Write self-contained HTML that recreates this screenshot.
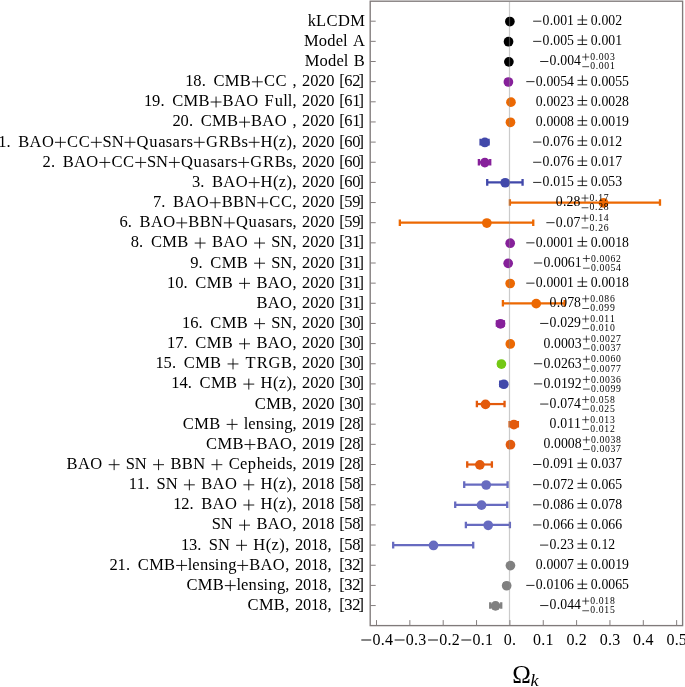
<!DOCTYPE html>
<html><head><meta charset="utf-8"><title>Omega_k constraints</title>
<style>
html,body{margin:0;padding:0;background:#fff;}
body{width:685px;height:687px;overflow:hidden;}
svg{display:block;will-change:transform;}
text{font-family:"Liberation Serif",serif;fill:#000;text-anchor:middle;}
.lb{font-size:16.50px;}
.vl{font-size:13.75px;}
.sc{font-size:9.70px;}
.tk{font-size:16.00px;}
.om{font-size:25px;}
.kk{font-size:15.8px;font-style:italic;text-anchor:start;}
</style></head>
<body><svg width="685" height="687" viewBox="0 0 685 687">
<rect width="685" height="687" fill="#fff"/>
<rect x="370.20" y="1.20" width="312.40" height="624.40" fill="none" stroke="#807a7a" stroke-width="1.35"/>
<path d="M370.20 21.20H375.70M370.20 41.35H375.70M370.20 61.50H375.70M370.20 81.65H375.70M370.20 101.80H375.70M370.20 121.95H375.70M370.20 142.10H375.70M370.20 162.25H375.70M370.20 182.40H375.70M370.20 202.55H375.70M370.20 222.70H375.70M370.20 242.85H375.70M370.20 263.00H375.70M370.20 283.15H375.70M370.20 303.30H375.70M370.20 323.45H375.70M370.20 343.60H375.70M370.20 363.75H375.70M370.20 383.90H375.70M370.20 404.05H375.70M370.20 424.20H375.70M370.20 444.35H375.70M370.20 464.50H375.70M370.20 484.65H375.70M370.20 504.80H375.70M370.20 524.95H375.70M370.20 545.10H375.70M370.20 565.25H375.70M370.20 585.40H375.70M370.20 605.55H375.70" stroke="#847e7e" stroke-width="1" fill="none"/>
<path d="M376.50 625.60V620.10M409.85 625.60V620.10M443.20 625.60V620.10M476.55 625.60V620.10M509.90 625.60V620.10M543.25 625.60V620.10M576.60 625.60V620.10M609.95 625.60V620.10M643.30 625.60V620.10M676.65 625.60V620.10" stroke="#847e7e" stroke-width="1" fill="none"/>
<g><path d="M508.90 21.20H510.23" stroke="#000000" stroke-width="2.2"/><path d="M508.90 17.90v6.6M510.23 17.90v6.6" stroke="#000000" stroke-width="2.3"/><circle cx="509.87" cy="21.55" r="4.85" fill="#000000"/><path d="M507.90 41.35H508.57" stroke="#000000" stroke-width="2.2"/><path d="M507.90 38.05v6.6M508.57 38.05v6.6" stroke="#000000" stroke-width="2.3"/><circle cx="508.53" cy="41.70" r="4.85" fill="#000000"/><path d="M508.23 61.50H509.57" stroke="#000000" stroke-width="2.2"/><path d="M508.23 58.20v6.6M509.57 58.20v6.6" stroke="#000000" stroke-width="2.3"/><circle cx="508.87" cy="61.85" r="4.85" fill="#000000"/><path d="M506.26 81.65H509.93" stroke="#86209a" stroke-width="2.2"/><path d="M506.26 78.35v6.6M509.93 78.35v6.6" stroke="#86209a" stroke-width="2.3"/><circle cx="508.40" cy="82.00" r="4.85" fill="#86209a"/><path d="M509.73 101.80H511.60" stroke="#ec6802" stroke-width="2.2"/><path d="M509.73 98.50v6.6M511.60 98.50v6.6" stroke="#ec6802" stroke-width="2.3"/><circle cx="510.97" cy="102.15" r="4.85" fill="#ec6802"/><path d="M509.53 121.95H510.80" stroke="#ec6802" stroke-width="2.2"/><path d="M509.53 118.65v6.6M510.80 118.65v6.6" stroke="#ec6802" stroke-width="2.3"/><circle cx="510.47" cy="122.30" r="4.85" fill="#ec6802"/><path d="M480.55 142.10H488.56" stroke="#4148aa" stroke-width="2.2"/><path d="M480.55 138.80v6.6M488.56 138.80v6.6" stroke="#4148aa" stroke-width="2.3"/><circle cx="484.85" cy="142.45" r="4.85" fill="#4148aa"/><path d="M478.88 162.25H490.22" stroke="#86209a" stroke-width="2.2"/><path d="M478.88 158.95v6.6M490.22 158.95v6.6" stroke="#86209a" stroke-width="2.3"/><circle cx="484.85" cy="162.60" r="4.85" fill="#86209a"/><path d="M487.22 182.40H522.57" stroke="#4148aa" stroke-width="2.2"/><path d="M487.22 179.10v6.6M522.57 179.10v6.6" stroke="#4148aa" stroke-width="2.3"/><circle cx="505.20" cy="182.75" r="4.85" fill="#4148aa"/><path d="M509.90 202.55H659.98" stroke="#ec6802" stroke-width="2.2"/><path d="M509.90 199.25v6.6M659.98 199.25v6.6" stroke="#ec6802" stroke-width="2.3"/><circle cx="603.58" cy="202.90" r="4.85" fill="#ec6802"/><path d="M399.84 222.70H533.25" stroke="#ec6802" stroke-width="2.2"/><path d="M399.84 219.40v6.6M533.25 219.40v6.6" stroke="#ec6802" stroke-width="2.3"/><circle cx="486.85" cy="223.05" r="4.85" fill="#ec6802"/><path d="M509.27 242.85H510.47" stroke="#86209a" stroke-width="2.2"/><path d="M509.27 239.55v6.6M510.47 239.55v6.6" stroke="#86209a" stroke-width="2.3"/><circle cx="510.17" cy="243.20" r="4.85" fill="#86209a"/><path d="M506.06 263.00H509.93" stroke="#86209a" stroke-width="2.2"/><path d="M506.06 259.70v6.6M509.93 259.70v6.6" stroke="#86209a" stroke-width="2.3"/><circle cx="508.17" cy="263.35" r="4.85" fill="#86209a"/><path d="M509.27 283.15H510.47" stroke="#ec6802" stroke-width="2.2"/><path d="M509.27 279.85v6.6M510.47 279.85v6.6" stroke="#ec6802" stroke-width="2.3"/><circle cx="510.17" cy="283.50" r="4.85" fill="#ec6802"/><path d="M502.90 303.30H564.59" stroke="#ec6802" stroke-width="2.2"/><path d="M502.90 300.00v6.6M564.59 300.00v6.6" stroke="#ec6802" stroke-width="2.3"/><circle cx="536.21" cy="303.65" r="4.85" fill="#ec6802"/><path d="M496.89 323.45H503.90" stroke="#86209a" stroke-width="2.2"/><path d="M496.89 320.15v6.6M503.90 320.15v6.6" stroke="#86209a" stroke-width="2.3"/><circle cx="500.53" cy="323.80" r="4.85" fill="#86209a"/><path d="M508.77 343.60H510.90" stroke="#ec6802" stroke-width="2.2"/><path d="M508.77 340.30v6.6M510.90 340.30v6.6" stroke="#ec6802" stroke-width="2.3"/><circle cx="510.30" cy="343.95" r="4.85" fill="#ec6802"/><path d="M498.56 363.75H503.13" stroke="#73c814" stroke-width="2.2"/><path d="M498.56 360.45v6.6M503.13 360.45v6.6" stroke="#73c814" stroke-width="2.3"/><circle cx="501.43" cy="364.10" r="4.85" fill="#73c814"/><path d="M500.20 383.90H504.70" stroke="#4148aa" stroke-width="2.2"/><path d="M500.20 380.60v6.6M504.70 380.60v6.6" stroke="#4148aa" stroke-width="2.3"/><circle cx="503.80" cy="384.25" r="4.85" fill="#4148aa"/><path d="M476.88 404.05H504.56" stroke="#e35a0c" stroke-width="2.2"/><path d="M476.88 400.75v6.6M504.56 400.75v6.6" stroke="#e35a0c" stroke-width="2.3"/><circle cx="485.52" cy="404.40" r="4.85" fill="#e35a0c"/><path d="M509.57 424.20H517.90" stroke="#e35a0c" stroke-width="2.2"/><path d="M509.57 420.90v6.6M517.90 420.90v6.6" stroke="#e35a0c" stroke-width="2.3"/><circle cx="513.87" cy="424.55" r="4.85" fill="#e35a0c"/><path d="M508.93 444.35H511.43" stroke="#e35a0c" stroke-width="2.2"/><path d="M508.93 441.05v6.6M511.43 441.05v6.6" stroke="#e35a0c" stroke-width="2.3"/><circle cx="510.47" cy="444.70" r="4.85" fill="#e35a0c"/><path d="M467.21 464.50H491.89" stroke="#e35a0c" stroke-width="2.2"/><path d="M467.21 461.20v6.6M491.89 461.20v6.6" stroke="#e35a0c" stroke-width="2.3"/><circle cx="479.85" cy="464.85" r="4.85" fill="#e35a0c"/><path d="M464.21 484.65H507.57" stroke="#676bc0" stroke-width="2.2"/><path d="M464.21 481.35v6.6M507.57 481.35v6.6" stroke="#676bc0" stroke-width="2.3"/><circle cx="486.19" cy="485.00" r="4.85" fill="#676bc0"/><path d="M455.21 504.80H507.23" stroke="#676bc0" stroke-width="2.2"/><path d="M455.21 501.50v6.6M507.23 501.50v6.6" stroke="#676bc0" stroke-width="2.3"/><circle cx="481.52" cy="505.15" r="4.85" fill="#676bc0"/><path d="M465.88 524.95H509.90" stroke="#676bc0" stroke-width="2.2"/><path d="M465.88 521.65v6.6M509.90 521.65v6.6" stroke="#676bc0" stroke-width="2.3"/><circle cx="488.19" cy="525.30" r="4.85" fill="#676bc0"/><path d="M393.17 545.10H473.21" stroke="#676bc0" stroke-width="2.2"/><path d="M393.17 541.80v6.6M473.21 541.80v6.6" stroke="#676bc0" stroke-width="2.3"/><circle cx="433.50" cy="545.45" r="4.85" fill="#676bc0"/><path d="M509.50 565.25H510.77" stroke="#808080" stroke-width="2.2"/><path d="M509.50 561.95v6.6M510.77 561.95v6.6" stroke="#808080" stroke-width="2.3"/><circle cx="510.43" cy="565.60" r="4.85" fill="#808080"/><path d="M504.20 585.40H508.53" stroke="#808080" stroke-width="2.2"/><path d="M504.20 582.10v6.6M508.53 582.10v6.6" stroke="#808080" stroke-width="2.3"/><circle cx="506.66" cy="585.75" r="4.85" fill="#808080"/><path d="M490.22 605.55H501.23" stroke="#808080" stroke-width="2.2"/><path d="M490.22 602.25v6.6M501.23 602.25v6.6" stroke="#808080" stroke-width="2.3"/><circle cx="495.53" cy="605.90" r="4.85" fill="#808080"/></g>
<path d="M509.50 1.80V625.00" stroke="#8c8c8c" stroke-opacity="0.45" stroke-width="1.2"/>
<g class="tx">
<text class="lb" x="311.84 321.15 332.03 344.03 357.60" y="25.70">kLCDM</text>
<text class="lb" x="311.39 322.83 331.35 339.43 345.26 358.94" y="45.85">ModelA</text>
<text class="lb" x="312.06 323.50 332.03 340.10 345.93 359.28" y="66.00">ModelB</text>
<text class="lb" x="189.37 197.45 203.73 218.98 232.21 245.33 269.45 281.11 294.57 306.23 314.31 322.38 330.46 342.12 348.40 356.48 361.14" y="86.15">18.CMBCC,2020[62]</text><path d="M251.88 81.85h10.90M257.33 76.40v10.90" stroke="#000" stroke-width="0.90" fill="none"/>
<text class="lb" x="148.10 156.17 162.45 177.70 190.94 204.06 228.06 239.84 252.17 269.11 278.87 285.60 290.08 294.57 306.23 314.31 322.38 330.46 342.12 348.40 356.48 361.14" y="106.30">19.CMBBAOFull,2020[61]</text><path d="M210.61 102.00h10.90M216.06 96.55v10.90" stroke="#000" stroke-width="0.90" fill="none"/>
<text class="lb" x="176.59 184.66 190.94 206.19 219.43 232.55 256.55 268.32 280.66 294.57 306.23 314.31 322.38 330.46 342.12 348.40 356.48 361.14" y="126.45">20.CMBBAO,2020[61]</text><path d="M239.10 122.15h10.90M244.55 116.70v10.90" stroke="#000" stroke-width="0.90" fill="none"/>
<text class="lb" x="2.32 8.60 23.74 35.52 47.85 72.53 84.19 107.07 117.61 142.51 153.28 161.80 169.03 176.25 183.45 189.80 211.88 224.16 235.82 244.73 266.53 275.73 282.46 289.18 294.57 306.23 314.31 322.38 330.46 342.12 348.40 356.48 361.14" y="146.60">1.BAOCCSNQuasarsGRBsH(z),2020[60]</text><path d="M54.97 142.30h10.90M60.42 136.85v10.90M90.85 142.30h10.90M96.30 136.85v10.90M124.50 142.30h10.90M129.95 136.85v10.90M193.81 142.30h10.90M199.26 136.85v10.90M248.74 142.30h10.90M254.19 136.85v10.90" stroke="#000" stroke-width="0.90" fill="none"/>
<text class="lb" x="46.74 53.02 68.15 79.93 92.27 116.94 128.60 151.48 162.03 186.93 197.69 206.22 213.44 220.66 227.86 234.21 256.29 268.57 280.24 289.14 294.57 306.23 314.31 322.38 330.46 342.12 348.40 356.48 361.14" y="166.75">2.BAOCCSNQuasarsGRBs,2020[60]</text><path d="M99.38 162.45h10.90M104.83 157.00v10.90M135.27 162.45h10.90M140.72 157.00v10.90M168.91 162.45h10.90M174.36 157.00v10.90M238.22 162.45h10.90M243.67 157.00v10.90" stroke="#000" stroke-width="0.90" fill="none"/>
<text class="lb" x="196.10 202.38 217.52 229.29 241.63 266.53 275.73 282.46 289.18 294.57 306.23 314.31 322.38 330.46 342.12 348.40 356.48 361.14" y="186.90">3.BAOH(z),2020[60]</text><path d="M248.74 182.60h10.90M254.19 177.15v10.90" stroke="#000" stroke-width="0.90" fill="none"/>
<text class="lb" x="157.07 163.35 178.49 190.27 202.60 227.17 238.60 250.38 274.83 286.49 294.57 306.23 314.31 322.38 330.46 342.12 348.40 356.48 361.14" y="207.05">7.BAOBBNCC,2020[59]</text><path d="M209.71 202.75h10.90M215.17 197.30v10.90M257.27 202.75h10.90M262.72 197.30v10.90" stroke="#000" stroke-width="0.90" fill="none"/>
<text class="lb" x="123.65 129.93 145.07 156.84 169.18 193.74 205.18 216.96 241.86 252.62 261.15 268.37 275.59 282.79 289.14 294.57 306.23 314.31 322.38 330.46 342.12 348.40 356.48 361.14" y="227.20">6.BAOBBNQuasars,2020[59]</text><path d="M176.29 222.90h10.90M181.74 217.45v10.90M223.84 222.90h10.90M229.29 217.45v10.90" stroke="#000" stroke-width="0.90" fill="none"/>
<text class="lb" x="134.87 141.15 156.40 169.63 182.75 217.52 229.29 241.63 275.73 286.27 294.57 306.23 314.31 322.38 330.46 342.12 348.40 356.48 361.14" y="247.35">8.CMBBAOSN,2020[31]</text><path d="M194.69 243.05h10.90M200.14 237.60v10.90M254.13 243.05h10.90M259.58 237.60v10.90" stroke="#000" stroke-width="0.90" fill="none"/>
<text class="lb" x="194.31 200.59 215.84 229.07 242.19 275.73 286.27 294.57 306.23 314.31 322.38 330.46 342.12 348.40 356.48 361.14" y="267.50">9.CMBSN,2020[31]</text><path d="M254.13 263.20h10.90M259.58 257.75v10.90" stroke="#000" stroke-width="0.90" fill="none"/>
<text class="lb" x="171.20 179.28 185.56 200.81 214.04 227.17 261.93 273.71 286.04 294.57 306.23 314.31 322.38 330.46 342.12 348.40 356.48 361.14" y="287.65">10.CMBBAO,2020[31]</text><path d="M239.10 283.35h10.90M244.55 277.90v10.90" stroke="#000" stroke-width="0.90" fill="none"/>
<text class="lb" x="261.93 273.71 286.04 294.57 306.23 314.31 322.38 330.46 342.12 348.40 356.48 361.14" y="307.80">BAO,2020[31]</text>
<text class="lb" x="186.23 194.31 200.59 215.84 229.07 242.19 275.73 286.27 294.57 306.23 314.31 322.38 330.46 342.12 348.40 356.48 361.14" y="327.95">16.CMBSN,2020[30]</text><path d="M254.13 323.65h10.90M259.58 318.20v10.90" stroke="#000" stroke-width="0.90" fill="none"/>
<text class="lb" x="171.20 179.28 185.56 200.81 214.04 227.17 261.93 273.71 286.04 294.57 306.23 314.31 322.38 330.46 342.12 348.40 356.48 361.14" y="348.10">17.CMBBAO,2020[30]</text><path d="M239.10 343.80h10.90M244.55 338.35v10.90" stroke="#000" stroke-width="0.90" fill="none"/>
<text class="lb" x="159.65 167.73 174.01 189.26 202.49 215.61 250.49 262.27 274.55 286.61 294.57 306.23 314.31 322.38 330.46 342.12 348.40 356.48 361.14" y="368.25">15.CMBTRGB,2020[30]</text><path d="M227.55 363.95h10.90M233.00 358.50v10.90" stroke="#000" stroke-width="0.90" fill="none"/>
<text class="lb" x="175.47 183.54 189.82 205.07 218.31 231.43 266.53 275.73 282.46 289.18 294.57 306.23 314.31 322.38 330.46 342.12 348.40 356.48 361.14" y="388.40">14.CMBH(z),2020[30]</text><path d="M243.36 384.10h10.90M248.81 378.65v10.90" stroke="#000" stroke-width="0.90" fill="none"/>
<text class="lb" x="260.25 273.48 286.61 294.57 306.23 314.31 322.38 330.46 342.12 348.40 356.48 361.14" y="408.55">CMB,2020[30]</text>
<text class="lb" x="188.38 201.62 214.74 246.03 251.86 259.93 267.61 273.03 279.76 288.29 294.57 306.23 314.31 322.38 330.46 342.12 348.40 356.48 361.14" y="428.70">CMBlensing,2019[28]</text><path d="M226.67 424.40h10.90M232.12 418.95v10.90" stroke="#000" stroke-width="0.90" fill="none"/>
<text class="lb" x="211.58 224.81 237.93 261.93 273.71 286.04 294.57 306.23 314.31 322.38 330.46 342.12 348.40 356.48 361.14" y="448.85">CMBBAO,2019[28]</text><path d="M244.48 444.55h10.90M249.93 439.10v10.90" stroke="#000" stroke-width="0.90" fill="none"/>
<text class="lb" x="72.08 83.86 96.19 130.29 140.83 175.93 187.37 199.15 234.36 243.78 251.86 260.83 268.91 274.74 281.47 289.14 294.57 306.23 314.31 322.38 330.46 342.12 348.40 356.48 361.14" y="469.00">BAOSNBBNCepheids,2019[28]</text><path d="M108.69 464.70h10.90M114.14 459.25v10.90M153.10 464.70h10.90M158.55 459.25v10.90M211.42 464.70h10.90M216.87 459.25v10.90" stroke="#000" stroke-width="0.90" fill="none"/>
<text class="lb" x="132.85 140.92 147.20 161.11 171.65 206.75 218.53 230.87 266.53 275.73 282.46 289.18 294.57 306.23 314.31 322.38 330.46 342.12 348.40 356.48 361.14" y="489.15">11.SNBAOH(z),2018[58]</text><path d="M183.92 484.85h10.90M189.37 479.40v10.90M243.36 484.85h10.90M248.81 479.40v10.90" stroke="#000" stroke-width="0.90" fill="none"/>
<text class="lb" x="177.26 185.33 191.62 206.75 218.53 230.87 266.53 275.73 282.46 289.18 294.57 306.23 314.31 322.38 330.46 342.12 348.40 356.48 361.14" y="509.30">12.BAOH(z),2018[58]</text><path d="M243.36 505.00h10.90M248.81 499.55v10.90" stroke="#000" stroke-width="0.90" fill="none"/>
<text class="lb" x="216.29 226.83 261.93 273.71 286.04 294.57 306.23 314.31 322.38 330.46 342.12 348.40 356.48 361.14" y="529.45">SNBAO,2018[58]</text><path d="M239.10 525.15h10.90M244.55 519.70v10.90" stroke="#000" stroke-width="0.90" fill="none"/>
<text class="lb" x="185.06 193.13 199.41 213.32 223.86 259.30 268.49 275.22 281.95 287.34 299.00 307.07 315.15 323.22 329.51 342.12 348.40 356.48 361.14" y="549.60">13.SNH(z),2018,[58]</text><path d="M236.13 545.30h10.90M241.58 539.85v10.90" stroke="#000" stroke-width="0.90" fill="none"/>
<text class="lb" x="113.63 121.71 127.99 143.24 156.48 169.60 190.12 195.95 204.03 211.70 217.13 223.86 232.38 254.70 266.48 278.81 287.34 299.00 307.07 315.15 323.22 329.51 342.12 348.40 356.48 361.14" y="569.75">21.CMBlensingBAO,2018,[32]</text><path d="M176.15 565.45h10.90M181.60 560.00v10.90M237.25 565.45h10.90M242.70 560.00v10.90" stroke="#000" stroke-width="0.90" fill="none"/>
<text class="lb" x="191.92 205.15 218.27 238.80 244.63 252.70 260.37 265.80 272.53 281.06 287.34 299.00 307.07 315.15 323.22 329.51 342.12 348.40 356.48 361.14" y="589.90">CMBlensing,2018,[32]</text><path d="M224.82 585.60h10.90M230.27 580.15v10.90" stroke="#000" stroke-width="0.90" fill="none"/>
<text class="lb" x="253.02 266.25 279.37 287.34 299.00 307.07 315.15 323.22 329.51 342.12 348.40 356.48 361.14" y="610.05">CMB,2018,[32]</text>
<text class="vl" x="546.06 551.41 556.76 563.63 570.51 594.19 599.53 604.88 611.76 618.63" y="25.10">0.0010.002</text><path d="M533.15 21.20h8.25M577.49 19.94h9.71M582.35 14.99V24.41M577.49 24.41h9.71" stroke="#000" stroke-width="0.85" fill="none"/>
<text class="vl" x="546.06 551.41 556.76 563.63 570.51 594.19 599.53 604.88 611.76 618.63" y="45.25">0.0050.001</text><path d="M533.15 41.35h8.25M577.49 40.09h9.71M582.35 35.14V44.56M577.49 44.56h9.71" stroke="#000" stroke-width="0.85" fill="none"/>
<text class="vl" x="553.06 558.41 563.76 570.63 577.51" y="65.40">0.004</text><path d="M540.15 61.50h8.25" stroke="#000" stroke-width="0.85" fill="none"/>
<text class="sc" x="592.71 596.99 601.26 606.79 612.31" y="60.10">0.003</text><path d="M582.20 57.00h6.98M585.70 53.51v6.98" stroke="#000" stroke-width="0.70" fill="none"/>
<text class="sc" x="592.71 596.99 601.26 606.79 612.31" y="69.30">0.001</text><path d="M582.30 66.70h6.79" stroke="#000" stroke-width="0.70" fill="none"/>
<text class="vl" x="539.19 544.53 549.88 556.76 563.63 570.51 594.19 599.53 604.88 611.76 618.63 625.51" y="85.55">0.00540.0055</text><path d="M526.28 81.65h8.25M577.49 80.39h9.71M582.35 75.44V84.86M577.49 84.86h9.71" stroke="#000" stroke-width="0.85" fill="none"/>
<text class="vl" x="539.19 544.53 549.88 556.76 563.63 570.51 594.19 599.53 604.88 611.76 618.63 625.51" y="105.70">0.00230.0028</text><path d="M577.49 100.54h9.71M582.35 95.59V105.01M577.49 105.01h9.71" stroke="#000" stroke-width="0.85" fill="none"/>
<text class="vl" x="539.19 544.53 549.88 556.76 563.63 570.51 594.19 599.53 604.88 611.76 618.63 625.51" y="125.85">0.00080.0019</text><path d="M577.49 120.69h9.71M582.35 115.74V125.16M577.49 125.16h9.71" stroke="#000" stroke-width="0.85" fill="none"/>
<text class="vl" x="546.06 551.41 556.76 563.63 570.51 594.19 599.53 604.88 611.76 618.63" y="146.00">0.0760.012</text><path d="M533.15 142.10h8.25M577.49 140.84h9.71M582.35 135.89V145.31M577.49 145.31h9.71" stroke="#000" stroke-width="0.85" fill="none"/>
<text class="vl" x="546.06 551.41 556.76 563.63 570.51 594.19 599.53 604.88 611.76 618.63" y="166.15">0.0760.017</text><path d="M533.15 162.25h8.25M577.49 160.99h9.71M582.35 156.04V165.46M577.49 165.46h9.71" stroke="#000" stroke-width="0.85" fill="none"/>
<text class="vl" x="546.06 551.41 556.76 563.63 570.51 594.19 599.53 604.88 611.76 618.63" y="186.30">0.0150.053</text><path d="M533.15 182.40h8.25M577.49 181.14h9.71M582.35 176.19V185.61M577.49 185.61h9.71" stroke="#000" stroke-width="0.85" fill="none"/>
<text class="vl" x="559.26 564.61 569.96 576.83" y="206.45">0.28</text>
<text class="sc" x="592.03 596.31 600.59 606.11" y="201.15">0.17</text><path d="M581.53 198.05h6.98M585.02 194.56v6.98" stroke="#000" stroke-width="0.70" fill="none"/>
<text class="sc" x="592.03 596.31 600.59 606.11" y="210.35">0.28</text><path d="M581.62 207.75h6.79" stroke="#000" stroke-width="0.70" fill="none"/>
<text class="vl" x="559.26 564.61 569.96 576.83" y="226.60">0.07</text><path d="M546.35 222.70h8.25" stroke="#000" stroke-width="0.85" fill="none"/>
<text class="sc" x="592.03 596.31 600.59 606.11" y="221.30">0.14</text><path d="M581.53 218.20h6.98M585.02 214.71v6.98" stroke="#000" stroke-width="0.70" fill="none"/>
<text class="sc" x="592.03 596.31 600.59 606.11" y="230.50">0.26</text><path d="M581.62 227.90h6.79" stroke="#000" stroke-width="0.70" fill="none"/>
<text class="vl" x="539.19 544.53 549.88 556.76 563.63 570.51 594.19 599.53 604.88 611.76 618.63 625.51" y="246.75">0.00010.0018</text><path d="M526.28 242.85h8.25M577.49 241.59h9.71M582.35 236.64V246.06M577.49 246.06h9.71" stroke="#000" stroke-width="0.85" fill="none"/>
<text class="vl" x="546.86 552.21 557.56 564.43 571.31 578.18" y="266.90">0.0061</text><path d="M533.95 263.00h8.25" stroke="#000" stroke-width="0.85" fill="none"/>
<text class="sc" x="593.39 597.66 601.94 607.46 612.99 618.51" y="261.60">0.0062</text><path d="M582.88 258.50h6.98M586.37 255.01v6.98" stroke="#000" stroke-width="0.70" fill="none"/>
<text class="sc" x="593.39 597.66 601.94 607.46 612.99 618.51" y="270.80">0.0054</text><path d="M582.98 268.20h6.79" stroke="#000" stroke-width="0.70" fill="none"/>
<text class="vl" x="539.19 544.53 549.88 556.76 563.63 570.51 594.19 599.53 604.88 611.76 618.63 625.51" y="287.05">0.00010.0018</text><path d="M526.28 283.15h8.25M577.49 281.89h9.71M582.35 276.94V286.36M577.49 286.36h9.71" stroke="#000" stroke-width="0.85" fill="none"/>
<text class="vl" x="553.06 558.41 563.76 570.63 577.51" y="307.20">0.078</text>
<text class="sc" x="592.71 596.99 601.26 606.79 612.31" y="301.90">0.086</text><path d="M582.20 298.80h6.98M585.70 295.31v6.98" stroke="#000" stroke-width="0.70" fill="none"/>
<text class="sc" x="592.71 596.99 601.26 606.79 612.31" y="311.10">0.099</text><path d="M582.30 308.50h6.79" stroke="#000" stroke-width="0.70" fill="none"/>
<text class="vl" x="553.06 558.41 563.76 570.63 577.51" y="327.35">0.029</text><path d="M540.15 323.45h8.25" stroke="#000" stroke-width="0.85" fill="none"/>
<text class="sc" x="592.71 596.99 601.26 606.79 612.31" y="322.05">0.011</text><path d="M582.20 318.95h6.98M585.70 315.46v6.98" stroke="#000" stroke-width="0.70" fill="none"/>
<text class="sc" x="592.71 596.99 601.26 606.79 612.31" y="331.25">0.010</text><path d="M582.30 328.65h6.79" stroke="#000" stroke-width="0.70" fill="none"/>
<text class="vl" x="546.86 552.21 557.56 564.43 571.31 578.18" y="347.50">0.0003</text>
<text class="sc" x="593.39 597.66 601.94 607.46 612.99 618.51" y="342.20">0.0027</text><path d="M582.88 339.10h6.98M586.37 335.61v6.98" stroke="#000" stroke-width="0.70" fill="none"/>
<text class="sc" x="593.39 597.66 601.94 607.46 612.99 618.51" y="351.40">0.0037</text><path d="M582.98 348.80h6.79" stroke="#000" stroke-width="0.70" fill="none"/>
<text class="vl" x="546.86 552.21 557.56 564.43 571.31 578.18" y="367.65">0.0263</text><path d="M533.95 363.75h8.25" stroke="#000" stroke-width="0.85" fill="none"/>
<text class="sc" x="593.39 597.66 601.94 607.46 612.99 618.51" y="362.35">0.0060</text><path d="M582.88 359.25h6.98M586.37 355.76v6.98" stroke="#000" stroke-width="0.70" fill="none"/>
<text class="sc" x="593.39 597.66 601.94 607.46 612.99 618.51" y="371.55">0.0077</text><path d="M582.98 368.95h6.79" stroke="#000" stroke-width="0.70" fill="none"/>
<text class="vl" x="546.86 552.21 557.56 564.43 571.31 578.18" y="387.80">0.0192</text><path d="M533.95 383.90h8.25" stroke="#000" stroke-width="0.85" fill="none"/>
<text class="sc" x="593.39 597.66 601.94 607.46 612.99 618.51" y="382.50">0.0036</text><path d="M582.88 379.40h6.98M586.37 375.91v6.98" stroke="#000" stroke-width="0.70" fill="none"/>
<text class="sc" x="593.39 597.66 601.94 607.46 612.99 618.51" y="391.70">0.0099</text><path d="M582.98 389.10h6.79" stroke="#000" stroke-width="0.70" fill="none"/>
<text class="vl" x="553.06 558.41 563.76 570.63 577.51" y="407.95">0.074</text><path d="M540.15 404.05h8.25" stroke="#000" stroke-width="0.85" fill="none"/>
<text class="sc" x="592.71 596.99 601.26 606.79 612.31" y="402.65">0.058</text><path d="M582.20 399.55h6.98M585.70 396.06v6.98" stroke="#000" stroke-width="0.70" fill="none"/>
<text class="sc" x="592.71 596.99 601.26 606.79 612.31" y="411.85">0.025</text><path d="M582.30 409.25h6.79" stroke="#000" stroke-width="0.70" fill="none"/>
<text class="vl" x="553.06 558.41 563.76 570.63 577.51" y="428.10">0.011</text>
<text class="sc" x="592.71 596.99 601.26 606.79 612.31" y="422.80">0.013</text><path d="M582.20 419.70h6.98M585.70 416.21v6.98" stroke="#000" stroke-width="0.70" fill="none"/>
<text class="sc" x="592.71 596.99 601.26 606.79 612.31" y="432.00">0.012</text><path d="M582.30 429.40h6.79" stroke="#000" stroke-width="0.70" fill="none"/>
<text class="vl" x="546.86 552.21 557.56 564.43 571.31 578.18" y="448.25">0.0008</text>
<text class="sc" x="593.39 597.66 601.94 607.46 612.99 618.51" y="442.95">0.0038</text><path d="M582.88 439.85h6.98M586.37 436.36v6.98" stroke="#000" stroke-width="0.70" fill="none"/>
<text class="sc" x="593.39 597.66 601.94 607.46 612.99 618.51" y="452.15">0.0037</text><path d="M582.98 449.55h6.79" stroke="#000" stroke-width="0.70" fill="none"/>
<text class="vl" x="546.06 551.41 556.76 563.63 570.51 594.19 599.53 604.88 611.76 618.63" y="468.40">0.0910.037</text><path d="M533.15 464.50h8.25M577.49 463.24h9.71M582.35 458.29V467.71M577.49 467.71h9.71" stroke="#000" stroke-width="0.85" fill="none"/>
<text class="vl" x="546.06 551.41 556.76 563.63 570.51 594.19 599.53 604.88 611.76 618.63" y="488.55">0.0720.065</text><path d="M533.15 484.65h8.25M577.49 483.39h9.71M582.35 478.44V487.86M577.49 487.86h9.71" stroke="#000" stroke-width="0.85" fill="none"/>
<text class="vl" x="546.06 551.41 556.76 563.63 570.51 594.19 599.53 604.88 611.76 618.63" y="508.70">0.0860.078</text><path d="M533.15 504.80h8.25M577.49 503.54h9.71M582.35 498.59V508.01M577.49 508.01h9.71" stroke="#000" stroke-width="0.85" fill="none"/>
<text class="vl" x="546.06 551.41 556.76 563.63 570.51 594.19 599.53 604.88 611.76 618.63" y="528.85">0.0660.066</text><path d="M533.15 524.95h8.25M577.49 523.69h9.71M582.35 518.74V528.16M577.49 528.16h9.71" stroke="#000" stroke-width="0.85" fill="none"/>
<text class="vl" x="552.94 558.28 563.63 570.51 594.19 599.53 604.88 611.76" y="549.00">0.230.12</text><path d="M540.03 545.10h8.25M577.49 543.84h9.71M582.35 538.89V548.31M577.49 548.31h9.71" stroke="#000" stroke-width="0.85" fill="none"/>
<text class="vl" x="539.19 544.53 549.88 556.76 563.63 570.51 594.19 599.53 604.88 611.76 618.63 625.51" y="569.15">0.00070.0019</text><path d="M577.49 563.99h9.71M582.35 559.04V568.46M577.49 568.46h9.71" stroke="#000" stroke-width="0.85" fill="none"/>
<text class="vl" x="539.19 544.53 549.88 556.76 563.63 570.51 594.19 599.53 604.88 611.76 618.63 625.51" y="589.30">0.01060.0065</text><path d="M526.28 585.40h8.25M577.49 584.14h9.71M582.35 579.19V588.61M577.49 588.61h9.71" stroke="#000" stroke-width="0.85" fill="none"/>
<text class="vl" x="553.06 558.41 563.76 570.63 577.51" y="609.45">0.044</text><path d="M540.15 605.55h8.25" stroke="#000" stroke-width="0.85" fill="none"/>
<text class="sc" x="592.71 596.99 601.26 606.79 612.31" y="604.15">0.018</text><path d="M582.20 601.05h6.98M585.70 597.56v6.98" stroke="#000" stroke-width="0.70" fill="none"/>
<text class="sc" x="592.71 596.99 601.26 606.79 612.31" y="613.35">0.015</text><path d="M582.30 610.75h6.79" stroke="#000" stroke-width="0.70" fill="none"/>
<text class="tk" x="376.50 382.72 388.94" y="645.00">0.4</text><path d="M361.32 640.00h9.92" stroke="#000" stroke-width="0.95" fill="none"/>
<text class="tk" x="409.85 416.07 422.29" y="645.00">0.3</text><path d="M394.67 640.00h9.92" stroke="#000" stroke-width="0.95" fill="none"/>
<text class="tk" x="443.20 449.42 455.64" y="645.00">0.2</text><path d="M428.02 640.00h9.92" stroke="#000" stroke-width="0.95" fill="none"/>
<text class="tk" x="476.55 482.77 488.99" y="645.00">0.1</text><path d="M461.37 640.00h9.92" stroke="#000" stroke-width="0.95" fill="none"/>
<text class="tk" x="507.68 513.90" y="645.00">0.</text>
<text class="tk" x="537.03 543.25 549.47" y="645.00">0.1</text>
<text class="tk" x="570.38 576.60 582.82" y="645.00">0.2</text>
<text class="tk" x="603.73 609.95 616.17" y="645.00">0.3</text>
<text class="tk" x="637.08 643.30 649.52" y="645.00">0.4</text>
<text class="tk" x="670.43 676.65 682.87" y="645.00">0.5</text>
</g>
<text class="om" x="521.5" y="683.1">Ω</text>
<text class="kk" transform="translate(530.6 686.3) scale(1.15 1)">k</text>
</svg></body></html>
